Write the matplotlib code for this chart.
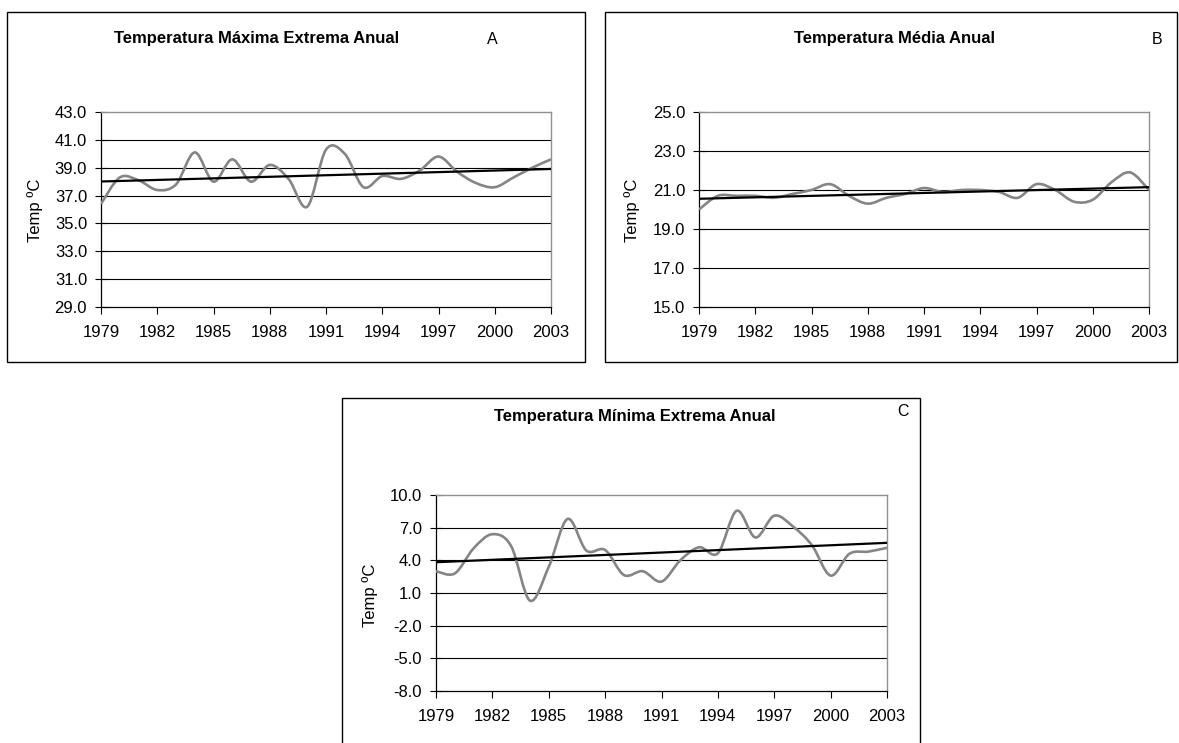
import numpy as np
import matplotlib.pyplot as plt
from matplotlib.path import Path
from matplotlib.patches import PathPatch, Rectangle

plt.rcParams['font.family'] = ['Liberation Sans', 'DejaVu Sans']

# DATOS
anos = list(range(1979, 2004))

tmax = [36.4, 38.3, 38.1, 37.4, 37.8, 40.1, 38.0, 39.6, 38.0, 39.2,
        38.2, 36.2, 40.3, 40.0, 37.6, 38.4, 38.2, 38.8, 39.8, 38.7,
        37.9, 37.6, 38.3, 39.0, 39.6]

tmed = [20.0, 20.7, 20.7, 20.7, 20.6, 20.8, 21.0, 21.3, 20.7, 20.3,
        20.6, 20.8, 21.1, 20.9, 21.0, 21.0, 20.9, 20.6, 21.3, 21.0,
        20.4, 20.5, 21.4, 21.9, 21.0]

tmin = [3.0, 2.8, 5.1, 6.4, 5.3, 0.3, 3.4, 7.8, 4.9, 4.95,
        2.65, 3.0, 2.05, 4.0, 5.2, 4.65, 8.55, 6.1, 8.1, 7.1,
        5.4, 2.6, 4.6, 4.8, 5.15]

titulos = ['Temperatura Máxima Extrema Anual',
           'Temperatura Média Anual',
           'Temperatura Mínima Extrema Anual']
letras = ['A', 'B', 'C']
ylims = [(29.0, 43.0), (15.0, 25.0), (-8.0, 10.0)]
ypasos = [2.0, 2.0, 3.0]

W, H = 1179, 743
fig = plt.figure(figsize=(W/100, H/100), dpi=100)


def fx(px):
    return px / W


def fy(py):
    return 1 - py / H


def linea_suave(ax, x, y, **kw):
    # curva suavizada tipo Excel (Bezier por los puntos)
    x = np.asarray(x, float)
    y = np.asarray(y, float)
    n = len(x)
    verts = [(x[0], y[0])]
    codes = [Path.MOVETO]
    for i in range(n - 1):
        i0 = max(i - 1, 0)
        i3 = min(i + 2, n - 1)
        c1 = (x[i] + (x[i+1] - x[i0]) / 6, y[i] + (y[i+1] - y[i0]) / 6)
        c2 = (x[i+1] - (x[i3] - x[i]) / 6, y[i+1] - (y[i3] - y[i]) / 6)
        verts += [c1, c2, (x[i+1], y[i+1])]
        codes += [Path.CURVE4] * 3
    ax.add_patch(PathPatch(Path(verts, codes), fill=False, **kw))


# posiciones en pixeles: (marco, area de grafico, titulo, letra, etiqueta y)
paneles = [
    dict(caja=(7, 12, 585, 362), area=(101, 112, 551, 307),
         tit=(257, 38), let=(492, 39), ylab=(35, 210)),
    dict(caja=(605, 12, 1177, 362), area=(699, 112, 1149, 307),
         tit=(895, 38), let=(1157, 39), ylab=(632, 210)),
    dict(caja=(342, 398, 920, 760), area=(436, 495, 887, 691),
         tit=(635, 417), let=(903, 412), ylab=(370, 595)),
]

for k, serie in enumerate([tmax, tmed, tmin]):
    p = paneles[k]
    x0, y0, x1, y1 = p['caja']
    fig.patches.append(Rectangle((fx(x0), fy(y1)), (x1 - x0) / W, (y1 - y0) / H,
                                 transform=fig.transFigure, fill=False,
                                 edgecolor='black', linewidth=1.0))
    a0, b0, a1, b1 = p['area']
    ax = fig.add_axes([fx(a0), fy(b1), (a1 - a0) / W, (b1 - b0) / H])

    lo, hi = ylims[k]
    ticks = np.arange(lo, hi + 0.01, ypasos[k])
    for t in ticks[1:-1]:
        ax.axhline(t, color='black', linewidth=0.8, zorder=1)

    linea_suave(ax, anos, serie, edgecolor='#858585', linewidth=1.9, zorder=3)

    # linea de tendencia lineal
    m, c = np.polyfit(anos, serie, 1)
    xt = np.array([anos[0], anos[-1]])
    ax.plot(xt, m * xt + c, color='black', linewidth=1.6, zorder=4)

    ax.set_xlim(anos[0], anos[-1])
    ax.set_ylim(lo, hi)
    ax.set_yticks(ticks)
    ax.set_yticklabels(['%.1f' % t for t in ticks])
    ax.set_xticks(anos[::3])
    ax.tick_params(axis='y', direction='inout', length=8, width=0.8,
                   labelsize=12, pad=6)
    ax.tick_params(axis='x', direction='out', length=5, width=0.8,
                   labelsize=12, pad=8)
    for s in ['top', 'right']:
        ax.spines[s].set_color('#909090')
        ax.spines[s].set_linewidth(1.0)
    for s in ['left', 'bottom']:
        ax.spines[s].set_color('black')
        ax.spines[s].set_linewidth(0.9)

    fig.text(fx(p['tit'][0]), fy(p['tit'][1]), titulos[k], ha='center',
             va='center', fontsize=12, fontweight='bold')
    fig.text(fx(p['let'][0]), fy(p['let'][1]), letras[k], ha='center',
             va='center', fontsize=11.5)
    fig.text(fx(p['ylab'][0]), fy(p['ylab'][1]), 'Temp ºC', ha='center',
             va='center', rotation=90, fontsize=12)

plt.savefig('out.png', dpi=100)
